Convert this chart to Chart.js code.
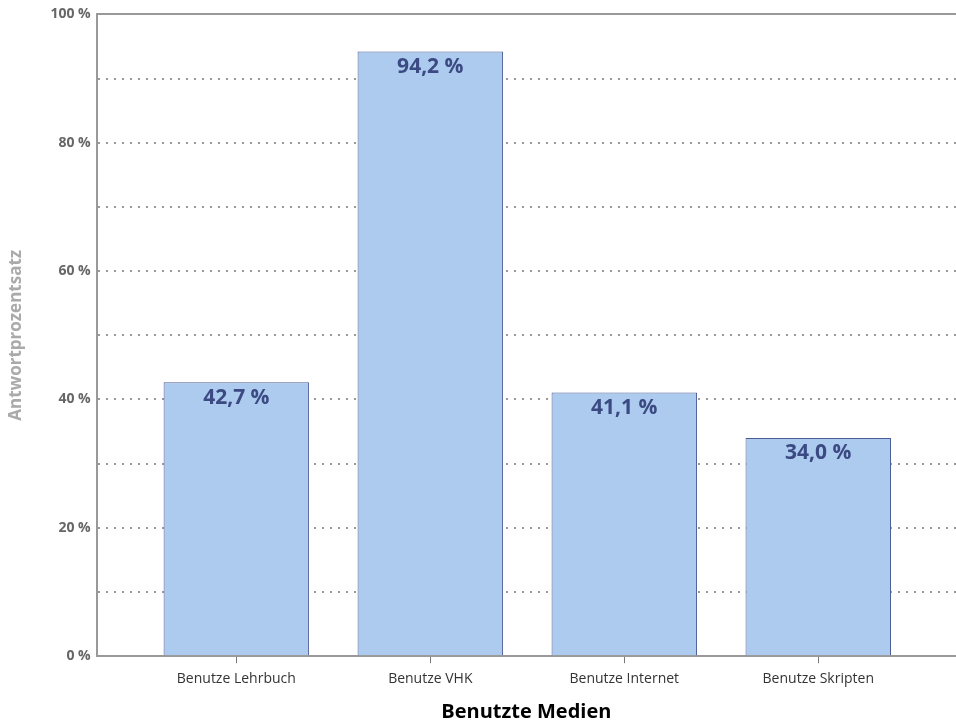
<!DOCTYPE html>
<html>
<head>
<meta charset="utf-8">
<script src="https://cdn.jsdelivr.net/npm/chart.js@4/dist/chart.umd.min.js"></script>
<style>
  html, body { margin: 0; padding: 0; background: #fff; }
  #wrap { width: 956px; height: 724px; }
</style>
</head>
<body>
<div id="wrap"><canvas id="myChart"></canvas></div>
<script>
// chart data
const categories = ["Benutze Lehrbuch", "Benutze VHK", "Benutze Internet", "Benutze Skripten"];
const percentValues = [42.7, 94.2, 41.1, 34.0];
const yTicks = [0, 20, 40, 60, 80, 100];

const FONT = "'Open Sans', 'Noto Sans', sans-serif";

// Write the value inside the top of each bar
const barLabels = {
  id: "barLabels",
  afterDatasetsDraw(chart) {
    const ctx = chart.ctx;
    const meta = chart.getDatasetMeta(0);
    ctx.save();
    ctx.font = "bold 21px " + FONT;
    ctx.fillStyle = "#3b4a82";
    ctx.textAlign = "center";
    ctx.textBaseline = "top";
    meta.data.forEach((bar, i) => {
      const txt = percentValues[i].toFixed(1).replace(".", ",") + " %";
      ctx.fillText(txt, bar.x, bar.y + 5);
    });
    ctx.restore();
  }
};

const ctx = document.getElementById("myChart").getContext("2d");
const myChart = new Chart(ctx, {
  type: "bar",
  data: {
    datasets: [{
      data: percentValues.map((v, i) => ({ x: i, y: v })),
      backgroundColor: "#adcbee",
      borderColor: "#4e5c96",
      borderWidth: 1,
      categoryPercentage: 0.75,
      barPercentage: 1,
    }],
  },
  options: {
    responsive: true,
    maintainAspectRatio: false,
    animation: false,
    layout: { padding: { top: 8, right: 0, left: 6, bottom: 0 } },
    plugins: { legend: { display: false }, tooltip: { enabled: false } },
    scales: {
      x: {
        type: "linear",
        min: -0.72,
        max: 3.71,
        offset: false,
        afterBuildTicks: axis => {
          axis.ticks = axis.ticks.filter(t => Number.isInteger(t.value) && t.value >= 0 && t.value < categories.length);
        },
        grid: { offset: false, drawOnChartArea: false, drawTicks: true, tickLength: 7, color: "#777", lineWidth: 1 },
        border: { color: "#999", width: 2 },
        ticks: {
          stepSize: 1,
          autoSkip: false,
          maxRotation: 0,
          color: "#333",
          font: { family: FONT, size: 14 },
          padding: 7,
          callback: v => categories[v] || "",
        },
        title: {
          display: true,
          text: "Benutzte Medien",
          color: "#000",
          font: { family: FONT, size: 20, weight: "bold" },
          padding: { top: 6, bottom: 0 },
        },
      },
      top: {
        type: "linear",
        position: "top",
        display: true,
        grid: { display: false, drawTicks: false },
        border: { color: "#999", width: 2 },
        ticks: { display: false },
      },
      y: {
        min: 0,
        max: 100,
        grid: {
          color: ctx => (ctx.tick.value === 0 || ctx.tick.value === 100 ? "rgba(0,0,0,0)" : "#999"),
          lineWidth: 2,
          drawTicks: false,
        },
        border: { color: "#999", width: 2, dash: [2, 6] },
        ticks: {
          stepSize: 10,
          autoSkip: false,
          color: "#666",
          padding: 6,
          font: { family: FONT, size: 14, weight: "bold" },
          callback: v => (yTicks.includes(v) ? v + " %" : ""),
        },
        title: {
          display: true,
          text: "Antwortprozentsatz",
          color: "#aaa",
          font: { family: FONT, size: 17, weight: "bold" },
          padding: { top: 0, bottom: 18 },
        },
      },
    },
  },
  plugins: [barLabels],
});
</script>
</body>
</html>
